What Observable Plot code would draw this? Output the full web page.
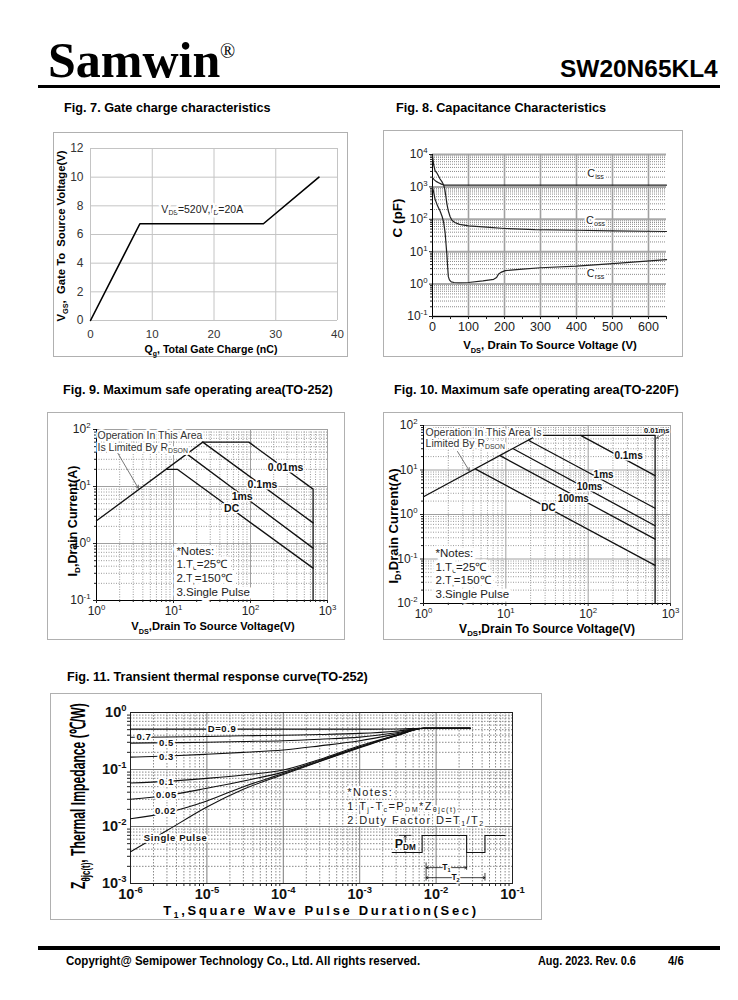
<!DOCTYPE html>
<html><head><meta charset="utf-8">
<script src="https://cdn.jsdelivr.net/npm/d3@7"></script>
<script src="https://cdn.jsdelivr.net/npm/@observablehq/plot@0.6"></script>
<style>
body{margin:0;background:#fff;}
#page{position:relative;width:738px;height:1000px;overflow:hidden;font-family:"Liberation Sans",Arial,Helvetica,sans-serif;color:#000;background:#fff;}
.abs{position:absolute;white-space:nowrap;}
.frame{position:absolute;border:1px solid #b0b0b0;box-sizing:border-box;}
.rule{position:absolute;background:#000;}
sub,sup{font-size:65%;line-height:0;}
svg{position:absolute;}
</style></head><body><div id="page"></div>
<script>
// ---------------- Fig. 7 : gate charge ----------------
const gcCharge = [0, 8, 28, 37];
const gcVoltage = [0, 6.75, 6.75, 10];
const gcXTicks = [0, 10, 20, 30, 40];
const gcYTicks = [0, 2, 4, 6, 8, 10, 12];
const gcNote = ["V_{DS}=520V,I_{D}=20A"];
const gcNoteQ = [18.1], gcNoteV = [7.72];

// ---------------- Fig. 8 : capacitance ----------------
const capXTicks = [0, 100, 200, 300, 400, 500, 600];
const capYTicks = [0.1, 1, 10, 100, 1000, 10000];
const cissV = [0, 5, 10, 17, 25, 31, 40, 60, 100, 200, 400, 650];
const cissC = [1950, 1650, 1480, 1350, 1220, 1140, 1130, 1130, 1130, 1130, 1130, 1130];
const cossV = [0, 3, 7, 13, 21, 27, 31, 34, 37, 40, 44, 49, 54, 62, 75, 100, 150, 200, 285, 400, 500, 650];
const cossC = [9500, 5000, 3200, 2600, 1750, 1400, 1150, 850, 525, 300, 180, 120, 94, 80, 70, 63, 57, 52, 48, 46, 44, 42];
const crssV = [0, 3, 7, 14, 21, 27, 31, 35, 38, 40, 42, 44, 47, 52, 60, 72, 100, 140, 170, 178, 183, 190, 202, 250, 300, 400, 500, 650];
const crssC = [1000, 700, 420, 260, 180, 120, 80, 39, 15, 8, 3.5, 1.7, 1.35, 1.17, 1.12, 1.1, 1.12, 1.25, 1.4, 1.6, 2.0, 2.3, 2.6, 2.9, 3.2, 3.6, 4.3, 5.7];
const capLabels = ["C_{iss}", "C_{oss}", "C_{rss}"];
const capLabelV = [453, 453, 453], capLabelC = [2630, 89, 2.1];

// ---------------- Fig. 9 : SOA TO-252 ----------------
const soaXTicks = [1, 10, 100, 1000];
const soa9YTicks = [0.1, 1, 10, 100];
const soa9RdsV = [1, 24], soa9RdsI = [2.5, 60];
const soa9Ms001V = [24, 95, 650, 650], soa9Ms001I = [60, 60, 9, 0.1];
const soa9Ms01V = [24, 650], soa9Ms01I = [60, 2.3];
const soa9Ms1V = [15, 650], soa9Ms1I = [37, 0.83];
const soa9DcV = [8, 11.2, 650], soa9DcI = [20, 20, 0.37];
const soa9Labels = ["0.01ms", "0.1ms", "1ms", "DC"];
const soa9LabelV = [285, 143, 78, 57], soa9LabelI = [21.5, 10.8, 6.7, 4.1];
const soa9Limit = ["Operation In This Area", "Is Limited By R_{DSON}"];
const soa9LimitV = [1.03, 1.03], soa9LimitI = [78.5, 48];
const soa9ArrowV = [1.87, 3.5], soa9ArrowI = [39.5, 9.3];
const soa9Notes = ["*Notes:", "1.T_{c}=25℃", "2.T_{j}=150℃", "3.Single Pulse"];
const soa9NoteV = [10.9, 10.9, 10.9, 10.9], soa9NoteI = [0.72, 0.43, 0.244, 0.138];

// ---------------- Fig. 10 : SOA TO-220F ----------------
const soa10YTicks = [0.01, 0.1, 1, 10, 100];
const soa10RdsV = [1, 24], soa10RdsI = [2.5, 60];
const soa10Ms001V = [24, 650, 650], soa10Ms001I = [60, 60, 0.01];
const soa10Ms01V = [81, 650], soa10Ms01I = [60, 7.5];
const soa10Ms1V = [19, 650], soa10Ms1I = [46, 1.38];
const soa10Ms10V = [12.3, 650], soa10Ms10I = [30, 0.56];
const soa10Ms100V = [8.5, 650], soa10Ms100I = [21, 0.28];
const soa10DcV = [4.3, 650], soa10DcI = [10.5, 0.072];
const soa10Labels = ["0.1ms", "1ms", "10ms", "100ms", "DC"];
const soa10LabelV = [310, 154, 104, 66, 33], soa10LabelI = [21, 7.9, 4.3, 2.2, 1.44];
const soa10SmallLabel = ["0.01ms"], soa10SmallV = [680], soa10SmallI = [78];
const soa10SmallArrowV = [870, 680], soa10SmallArrowI = [68, 52];
const soa10Limit = ["Operation In This Area Is", "Limited By R_{DSON}"];
const soa10LimitV = [1.06, 1.06], soa10LimitI = [69.8, 39.5];
const soa10ArrowV = [2.59, 3.6], soa10ArrowI = [26, 9.6];
const soa10Notes = ["*Notes:", "1.T_{c}=25℃", "2.T_{j}=150℃", "3.Single Pulse"];
const soa10NoteV = [1.4, 1.4, 1.4, 1.4], soa10NoteI = [0.133, 0.0645, 0.033, 0.0159];

// ---------------- Fig. 11 : transient thermal ----------------
const thXTicks = [1e-6, 1e-5, 1e-4, 1e-3, 1e-2, 1e-1];
const thYTicks = [1e-3, 1e-2, 1e-1, 1];
const thT = [1e-6, 3e-6, 1e-5, 3e-5, 1e-4, 3e-4, 1e-3, 3e-3, 7e-3, 2.8e-2];
const thD09 = [0.51, 0.51, 0.51, 0.51, 0.51, 0.51, 0.51, 0.515, 0.53, 0.53];
const thD07 = [0.367, 0.372, 0.38, 0.39, 0.40, 0.41, 0.43, 0.47, 0.53, 0.53];
const thD05 = [0.29, 0.295, 0.30, 0.31, 0.32, 0.34, 0.37, 0.44, 0.53, 0.53];
const thD03 = [0.165, 0.172, 0.185, 0.20, 0.22, 0.26, 0.32, 0.42, 0.53, 0.53];
const thD01 = [0.058, 0.062, 0.07, 0.08, 0.098, 0.15, 0.26, 0.40, 0.53, 0.53];
const thD005 = [0.030, 0.035, 0.047, 0.063, 0.09, 0.145, 0.25, 0.40, 0.53, 0.53];
const thD002 = [0.0137, 0.0175, 0.028, 0.05, 0.085, 0.14, 0.245, 0.39, 0.53, 0.53];
const thSingle = [0.0036, 0.0085, 0.022, 0.045, 0.082, 0.138, 0.24, 0.39, 0.53, 0.53];
const thLabels = ["D=0.9", "0.7", "0.5", "0.3", "0.1", "0.05", "0.02", "Single Pulse"];
const thLabelT = [1.58e-5, 1.5e-6, 2.95e-6, 2.95e-6, 2.95e-6, 2.95e-6, 2.86e-6, 3.9e-6];
const thLabelZ = [0.51, 0.37, 0.29, 0.165, 0.06, 0.036, 0.019, 0.0064];
const thNotes = ["*Notes:", "1.T_{j}-T_{c}=P_{DM}*Z_{θjc(t)}", "2.Duty Factor D=T_{1}/T_{2}"];
const thNoteT = [6.87e-4, 6.87e-4, 6.87e-4], thNoteZ = [0.0402, 0.0225, 0.0126];
const pulseT = [2.66e-3, 6.56e-3, 6.56e-3, 0.0251, 0.0251, 0.0436, 0.0436, 0.0798];
const pulseZ = [3.49e-3, 3.49e-3, 6.97e-3, 6.97e-3, 3.49e-3, 3.49e-3, 6.97e-3, 6.97e-3];
const pdmT = 3.94e-3, pdmMidZ = 5.03e-3, pdmTopZ = 6.97e-3, pdmLowZ = 3.49e-3;
const pdmTickT = [3.3e-3, 4.7e-3];
const t1From = 7.4e-3, t1To = 0.0251, t1Z = 1.9e-3;
const t2From = 7.4e-3, t2To = 0.0436, t2Z = 1.265e-3;

// ======================================================
const FONT = '"Liberation Sans", Arial, Helvetica, sans-serif';
const page = document.getElementById("page");
const NS = "http://www.w3.org/2000/svg";

function pow10(d) { return "10^{" + Math.round(Math.log10(d)) + "}"; }
function logMinor(e0, e1) { const r = []; for (let e = e0; e < e1; e++) for (let k = 2; k <= 9; k++) r.push(k * Math.pow(10, e)); return r; }
function blank() { return ""; }

function richify(svg) {
  svg.querySelectorAll("text").forEach(t => {
    const els = t.querySelector("tspan") ? Array.from(t.querySelectorAll("tspan")) : [t];
    els.forEach(el => {
      const s = el.textContent;
      if (!/[_^]\{/.test(s)) return;
      const fs = parseFloat(getComputedStyle(el).fontSize) || 12;
      while (el.firstChild) el.removeChild(el.firstChild);
      let off = 0;
      const add = (str, k) => {
        if (!str) return;
        const ts = document.createElementNS(NS, "tspan");
        ts.textContent = str;
        const target = k === "^" ? -fs * 0.42 : k === "_" ? fs * 0.18 : 0;
        const dy = target - off;
        if (Math.abs(dy) > 0.01) ts.setAttribute("dy", dy.toFixed(2));
        off = target;
        if (k) ts.setAttribute("font-size", (fs * 0.65).toFixed(2));
        el.appendChild(ts);
      };
      const re = /([_^])\{([^}]*)\}/g; let last = 0, m;
      while ((m = re.exec(s))) { add(s.slice(last, m.index)); add(m[2], m[1]); last = re.lastIndex; }
      add(s.slice(last));
    });
  });
}

function mount(svg, left, top, w, h) {
  const f = document.createElement("div");
  f.className = "frame";
  Object.assign(f.style, { left: left + "px", top: top + "px", width: w + "px", height: h + "px" });
  page.appendChild(f);
  svg.style.left = left + "px"; svg.style.top = top + "px";
  page.appendChild(svg);
  richify(svg);
  return svg;
}

function label(inner, o) {
  const d = document.createElement("div");
  d.className = "abs"; d.innerHTML = inner;
  d.style.fontSize = o.size + "px";
  d.style.fontWeight = o.bold === false ? "normal" : "bold";
  d.style.lineHeight = "1";
  if (o.font) d.style.fontFamily = o.font;
  page.appendChild(d);
  if (o.spread) { const w = d.offsetWidth; const n = d.textContent.length; d.style.letterSpacing = ((o.spread - w) / n) + "px"; }
  const sx = o.fit ? o.fit / d.offsetWidth : 1;
  const h = d.offsetHeight;
  if (o.cx !== undefined) {
    d.style.left = o.cx + "px"; d.style.top = o.cy + "px";
    d.style.transform = "translate(-50%,-50%) " + (o.rot ? "rotate(-90deg) " : "") + "scaleX(" + sx + ")";
  } else {
    d.style.left = o.left + "px";
    d.style.top = (o.top !== undefined ? o.top : o.cy - h / 2) + "px";
    d.style.transformOrigin = "0 50%";
    d.style.transform = "scaleX(" + sx + ")";
  }
  return d;
}
function rule(left, top, w, h) {
  const r = document.createElement("div"); r.className = "rule";
  Object.assign(r.style, { left: left + "px", top: top + "px", width: w + "px", height: h + "px" });
  page.appendChild(r);
}

const baseStyle = { fontFamily: FONT, fontSize: "12px", background: "none", overflow: "visible", color: "#222" };

// ---------------- header / footer ----------------
label("Samwin", { left: 48, top: 35, size: 50, font: '"Liberation Serif","Times New Roman",serif' });
label("®", { left: 220, top: 41, size: 20, bold: false, font: '"Liberation Serif","Times New Roman",serif' });
label("SW20N65KL4", { left: 560, top: 57, size: 24, fit: 158 });
rule(38, 85, 682, 3);
rule(38, 946, 682, 4);
label("Copyright@ Semipower Technology Co., Ltd. All rights reserved.", { left: 66, cy: 960, size: 13, fit: 354 });
label("Aug. 2023. Rev. 0.6", { left: 538, cy: 961, size: 12, fit: 98 });
label("4/6", { left: 668, cy: 961, size: 12, fit: 16 });

// ---------------- Fig 7 ----------------
label("Fig. 7. Gate charge characteristics", { left: 64, cy: 108, size: 12.7 });
mount(Plot.plot({
  width: 295, height: 225, marginLeft: 37, marginRight: 11, marginTop: 16, marginBottom: 37,
  style: baseStyle,
  x: { domain: [0, 40] }, y: { domain: [0, 12] },
  marks: [
    Plot.ruleX(gcXTicks, { stroke: "#c4c4c4" }),
    Plot.ruleY(gcYTicks, { stroke: "#c4c4c4" }),
    Plot.axisX(gcXTicks, { tickSize: 0, tickPadding: 9, fontSize: 11.5, label: null, fill: "#333" }),
    Plot.axisY(gcYTicks, { tickSize: 0, tickPadding: 7, fontSize: 12, label: null, fill: "#333" }),
    Plot.line(gcCharge, { x: gcCharge, y: gcVoltage, stroke: "#000", strokeWidth: 1.6 }),
    Plot.text(gcNote, { x: gcNoteQ, y: gcNoteV, text: gcNote, fontSize: 10.5, fill: "#222", stroke: "#fff", strokeWidth: 5 })
  ]
}), 53, 132, 295, 225);
label("V<sub>GS</sub>,&nbsp; Gate To&nbsp; Source Voltage(V)", { cx: 61, cy: 236, size: 10.8, rot: true, fit: 171 });
label("Q<sub>g</sub>, Total Gate Charge (nC)", { cx: 211, cy: 349, size: 10.6 });

// ---------------- Fig 8 ----------------
label("Fig. 8. Capacitance Characteristics", { left: 396, cy: 108, size: 12.7 });
const capXMinor = [50, 150, 250, 350, 450, 550, 650];
mount(Plot.plot({
  width: 300, height: 227, marginLeft: 49, marginRight: 17, marginTop: 24, marginBottom: 41,
  style: baseStyle,
  x: { domain: [0, 650] }, y: { type: "log", domain: [0.1, 10000] },
  marks: [
    Plot.ruleY(logMinor(-1, 4), { stroke: "#8c8c8c", strokeDasharray: "1,1" }),
    Plot.ruleY(capYTicks, { stroke: "#a8a8a8", strokeWidth: 2 }),
    Plot.ruleX(capXTicks.slice(1), { stroke: "#a0a0a0", strokeWidth: 1.6 }),
    Plot.ruleX([0], { stroke: "#000" }),
    Plot.ruleY([0.1], { stroke: "#000" }),
    Plot.axisY(capYTicks, { tickSize: 3, tickPadding: 2, tickFormat: pow10, fontSize: 12, label: null, fill: "#222" }),
    Plot.axisY(logMinor(-1, 4), { tickSize: 2, tickFormat: blank, label: null }),
    Plot.axisX(capXTicks, { tickSize: 3, tickPadding: 3, fontSize: 12.5, label: null, fill: "#222" }),
    Plot.axisX(capXMinor, { tickSize: 3, tickFormat: blank, label: null }),
    Plot.line(cissV, { x: cissV, y: cissC, stroke: "#222", strokeWidth: 1.2 }),
    Plot.line(cossV, { x: cossV, y: cossC, stroke: "#222", strokeWidth: 1.2 }),
    Plot.line(crssV, { x: crssV, y: crssC, stroke: "#222", strokeWidth: 1.2 }),
    Plot.text(capLabels, { x: capLabelV, y: capLabelC, text: capLabels, fontSize: 11, fill: "#222", stroke: "#fff", strokeWidth: 4 })
  ]
}), 383, 130, 300, 227);
label("C (pF)", { cx: 398, cy: 218, size: 13.5, rot: true });
label("V<sub>DS</sub>, Drain To Source Voltage (V)", { cx: 550, cy: 346, size: 11.3, fit: 174 });

// ---------------- SOA builder ----------------
function soaPlot(o) {
  const xMinor = logMinor(0, 3), yMinor = logMinor(o.yExp0, 2);
  const ymin = o.yTicks[0];
  const marks = [
    Plot.ruleX(xMinor, { stroke: "#9a9a9a", strokeDasharray: "1,1.5" }),
    Plot.ruleY(yMinor, { stroke: "#9a9a9a", strokeDasharray: "1,1.5" }),
    Plot.ruleX(soaXTicks, { stroke: "#a0a0a0" }),
    Plot.ruleY(o.yTicks, { stroke: "#a0a0a0" }),
    Plot.ruleX([1], { stroke: "#000" }),
    Plot.ruleY([ymin], { stroke: "#000" }),
    Plot.axisX(soaXTicks, { tickSize: 3, tickPadding: 3, tickFormat: pow10, fontSize: 12, label: null, fill: "#222" }),
    Plot.axisX(xMinor, { tickSize: 2, tickFormat: blank, label: null }),
    Plot.axisY(o.yTicks, { tickSize: 3, tickPadding: 3, tickFormat: pow10, fontSize: 12, label: null, fill: "#222" }),
    Plot.axisY(yMinor, { tickSize: 2, tickFormat: blank, label: null }),
    ...o.lines.map(([xs, ys]) => Plot.line(xs, { x: xs, y: ys, stroke: "#111", strokeWidth: 1.3 })),
    Plot.arrow([0], { x1: o.arrow[0][0], y1: o.arrow[1][0], x2: o.arrow[0][1], y2: o.arrow[1][1], stroke: "#555", strokeWidth: 0.8, headLength: 6 }),
    Plot.text(o.limit, { x: o.limitV, y: o.limitI, text: o.limit, textAnchor: "start", fontSize: 10.5, fill: "#333", stroke: "#fff", strokeWidth: 4 }),
    Plot.text(o.labels, { x: o.labelV, y: o.labelI, text: o.labels, fontSize: o.labelSize, fontWeight: "bold", fill: "#111", stroke: "#fff", strokeWidth: 3 }),
    Plot.text(o.notes, { x: o.noteV, y: o.noteI, text: o.notes, textAnchor: "start", fontSize: 11.5, fill: "#222", stroke: "#fff", strokeWidth: 7 })
  ];
  if (o.extra) marks.push(...o.extra);
  return Plot.plot({
    width: o.w, height: o.h, marginLeft: o.m[0], marginTop: o.m[1], marginRight: o.m[2], marginBottom: o.m[3],
    style: baseStyle,
    x: { type: "log", domain: [1, 1000] }, y: { type: "log", domain: [ymin, 100] },
    marks
  });
}

// ---------------- Fig 9 ----------------
label("Fig. 9. Maximum safe operating area(TO-252)", { left: 63, cy: 390, size: 12.7 });
mount(soaPlot({
  w: 298, h: 228, m: [49, 17, 18, 40], yTicks: soa9YTicks, yExp0: -1,
  lines: [[soa9RdsV, soa9RdsI], [soa9Ms001V, soa9Ms001I], [soa9Ms01V, soa9Ms01I], [soa9Ms1V, soa9Ms1I], [soa9DcV, soa9DcI]],
  arrow: [soa9ArrowV, soa9ArrowI],
  limit: soa9Limit, limitV: soa9LimitV, limitI: soa9LimitI,
  labels: soa9Labels, labelV: soa9LabelV, labelI: soa9LabelI, labelSize: 10.5,
  notes: soa9Notes, noteV: soa9NoteV, noteI: soa9NoteI
}), 47, 412, 298, 228);
label("I<sub>D</sub>,Drain Current(A)", { cx: 73, cy: 521, size: 12.5, rot: true });
label("V<sub>DS</sub>,Drain To Source Voltage(V)", { cx: 213, cy: 627, size: 11.3, fit: 163 });

// ---------------- Fig 10 ----------------
label("Fig. 10. Maximum safe operating area(TO-220F)", { left: 394, cy: 390, size: 12.7 });
mount(soaPlot({
  w: 300, h: 228, m: [40, 13, 13, 37], yTicks: soa10YTicks, yExp0: -2,
  lines: [[soa10RdsV, soa10RdsI], [soa10Ms001V, soa10Ms001I], [soa10Ms01V, soa10Ms01I], [soa10Ms1V, soa10Ms1I], [soa10Ms10V, soa10Ms10I], [soa10Ms100V, soa10Ms100I], [soa10DcV, soa10DcI]],
  arrow: [soa10ArrowV, soa10ArrowI],
  limit: soa10Limit, limitV: soa10LimitV, limitI: soa10LimitI,
  labels: soa10Labels, labelV: soa10LabelV, labelI: soa10LabelI, labelSize: 10,
  notes: soa10Notes, noteV: soa10NoteV, noteI: soa10NoteI,
  extra: [
    Plot.text(soa10SmallLabel, { x: soa10SmallV, y: soa10SmallI, text: soa10SmallLabel, fontSize: 7.5, fontWeight: "bold", fill: "#111", stroke: "#fff", strokeWidth: 2 }),
    Plot.arrow([0], { x1: soa10SmallArrowV[0], y1: soa10SmallArrowI[0], x2: soa10SmallArrowV[1], y2: soa10SmallArrowI[1], stroke: "#333", strokeWidth: 0.7, headLength: 4 })
  ]
}), 383, 412, 300, 228);
label("I<sub>D</sub>,Drain Current(A)", { cx: 393, cy: 526, size: 13, rot: true });
label("V<sub>DS</sub>,Drain To Source Voltage(V)", { cx: 547, cy: 629, size: 12, fit: 176 });

// ---------------- Fig 11 ----------------
label("Fig. 11. Transient thermal response curve(TO-252)", { left: 67, cy: 677, size: 12.7 });
const thSeries = [thD09, thD07, thD05, thD03, thD01, thD005, thD002, thSingle];
const thXMinor = logMinor(-6, -1), thYMinor = logMinor(-3, 0);
mount(Plot.plot({
  width: 492, height: 227, marginLeft: 80, marginRight: 30, marginTop: 19, marginBottom: 37,
  style: baseStyle,
  x: { type: "log", domain: [1e-6, 0.1] }, y: { type: "log", domain: [1e-3, 1] },
  marks: [
    Plot.ruleX(thXMinor, { stroke: "#8a8a8a", strokeDasharray: "1.5,1.5" }),
    Plot.ruleY(thYMinor, { stroke: "#8a8a8a", strokeDasharray: "1.5,1.5" }),
    Plot.ruleX(thXTicks, { stroke: "#7a7a7a" }),
    Plot.ruleY(thYTicks, { stroke: "#7a7a7a" }),
    Plot.frame({ stroke: "#222" }),
    Plot.axisX(thXTicks, { tickSize: 0, tickPadding: 5, tickFormat: pow10, fontSize: 14.5, fontWeight: "bold", label: null, fill: "#111" }),
    Plot.axisX(thXMinor, { tickSize: 3, tickFormat: blank, label: null }),
    Plot.axisY(thYTicks, { tickSize: 0, tickPadding: 4, tickFormat: pow10, fontSize: 14.5, fontWeight: "bold", label: null, fill: "#111" }),
    Plot.axisY(thYMinor, { tickSize: 3, tickFormat: blank, label: null }),
    ...thSeries.map(zs => Plot.line(thT, { x: thT, y: zs, stroke: "#111", strokeWidth: 1.1, curve: "monotone-x" })),
    Plot.text(thLabels, { x: thLabelT, y: thLabelZ, text: thLabels, fontSize: 9.5, fontWeight: "bold", fill: "#111", stroke: "#fff", strokeWidth: 4 }),
    Plot.text(thNotes, { x: thNoteT, y: thNoteZ, text: thNotes, textAnchor: "start", fontSize: 11, fill: "#222", stroke: "#fff", strokeWidth: 4 }),
    Plot.line(pulseT, { x: pulseT, y: pulseZ, stroke: "#111", strokeWidth: 1.1 }),
    Plot.line(pdmTickT, { x: pdmTickT, y: [pdmTopZ, pdmTopZ], stroke: "#111", strokeWidth: 0.8 }),
    Plot.arrow([0, 1], { x1: [pdmT, pdmT], y1: [pdmMidZ, pdmMidZ], x2: [pdmT, pdmT], y2: [pdmTopZ, pdmLowZ], stroke: "#111", strokeWidth: 0.8, headLength: 4 }),
    Plot.text(["P_{DM}"], { x: [pdmT], y: [pdmMidZ], text: ["P_{DM}"], fontSize: 12.5, fontWeight: "bold", fill: "#111", stroke: "#fff", strokeWidth: 3 }),
    Plot.arrow([0, 1, 2, 3], { x1: [Math.sqrt(t1From * t1To), Math.sqrt(t1From * t1To), Math.sqrt(t2From * t2To), Math.sqrt(t2From * t2To)], y1: [t1Z, t1Z, t2Z, t2Z], x2: [t1From, t1To, t2From, t2To], y2: [t1Z, t1Z, t2Z, t2Z], stroke: "#111", strokeWidth: 0.8, headLength: 4 }),
    Plot.ruleX([t1From], { y1: 1.1e-3, y2: 2.3e-3, stroke: "#111", strokeWidth: 0.8 }),
    Plot.ruleX([t1To], { y1: 1.7e-3, y2: pdmLowZ, stroke: "#111", strokeWidth: 0.8 }),
    Plot.ruleX([t2To], { y1: 1.1e-3, y2: 1.5e-3, stroke: "#111", strokeWidth: 0.8 }),
    Plot.text(["T_{1}", "T_{2}"], { x: [Math.sqrt(t1From * t1To), Math.sqrt(t2From * t2To)], y: [t1Z, t2Z], text: ["T_{1}", "T_{2}"], fontSize: 8.5, fontWeight: "bold", fill: "#111", stroke: "#fff", strokeWidth: 3 })
  ]
}), 50, 693, 492, 227);
(function () {
  const all = page.querySelectorAll("svg");
  const s = all[all.length - 1];
  const spaced = { "*Notes:": 1.4, "1.Tj-Tc=PDM*Zθjc(t)": 1.4, "2.Duty Factor D=T1/T2": 1.4 };
  s.querySelectorAll("text").forEach(t => {
    const c = t.textContent;
    if (spaced[c] !== undefined) t.style.letterSpacing = spaced[c] + "px";
    else if (thLabels.includes(c)) t.style.letterSpacing = "0.6px";
  });
})();
label("Z<sub>θjc(t)</sub>, Thermal Impedance (℃/W)", { cx: 77, cy: 796, size: 21, rot: true, fit: 186 });
label("T<sub>1</sub>,Square Wave Pulse Duration(Sec)", { cx: 321, cy: 910, size: 13, spread: 316 });
</script></body></html>
